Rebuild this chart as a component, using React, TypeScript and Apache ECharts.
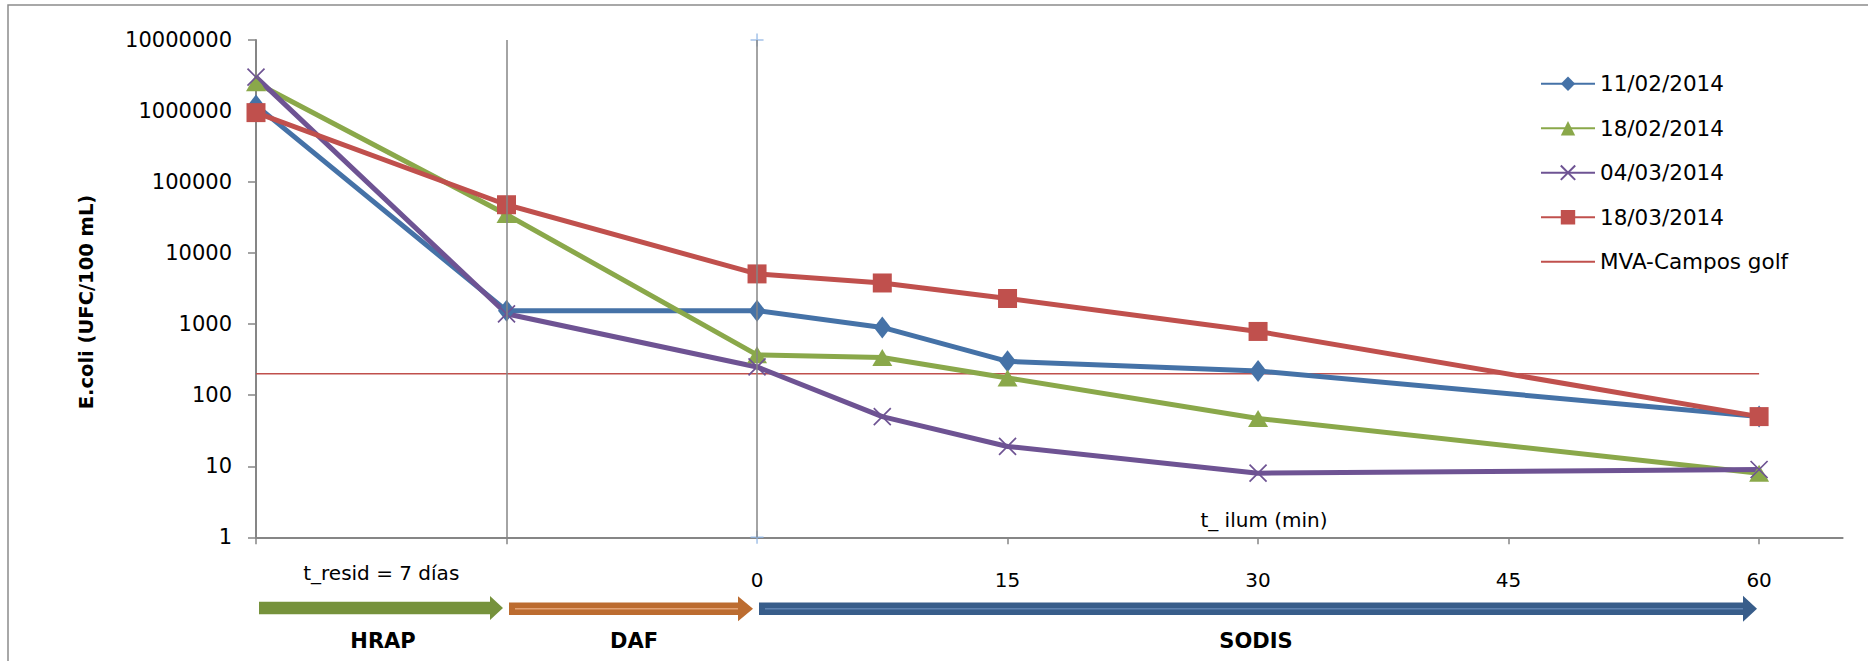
import React, { useEffect, useRef } from "react";
import * as echarts from "echarts";

// x: HRAP in (-30), HRAP out/DAF in (-15), then SODIS illumination minutes
const xValues = [-30, -15, 0, 7.5, 15, 30, 60];
const s1102 = [1200000, 1550, 1550, 900, 300, 220, 50];
const s1802 = [2500000, 35000, 370, 340, 175, 47, 8];
const s0403 = [3000000, 1400, 250, 50, 19, 8, 9];
const s1803 = [950000, 48000, 5100, 3800, 2300, 790, 50];
const mvaLimit = 200;
const mvaSpan = [-30, 60];
const seriesNames = ["11/02/2014", "18/02/2014", "04/03/2014", "18/03/2014", "MVA-Campos golf"];
const tickValues = [-30, -15, 15, 30, 45, 60];
const labelValues = [-22.5, 0, 15, 30, 45, 60];
const stageDividers = [-15, 0];
const FONT = "DejaVu Sans";

const CROSS = "path://M0,0 L10,10 M10,0 L0,10";
const PLUS = "path://M5,0 L5,10 M0,5 L10,5";
const THIN_LINE = "path://M0,0 L54,0 L54,2 L0,2 Z";

function arrow(x0: number, xh: number, tip: number, yc: number, sh: number, hh: number, fill: string) {
  return {
    type: "polygon",
    shape: {
      points: [
        [x0, yc - sh], [xh, yc - sh], [xh, yc - hh], [tip, yc], [xh, yc + hh], [xh, yc + sh], [x0, yc + sh],
      ],
    },
    style: { fill },
    silent: true,
  };
}

export default function App() {
  const ref = useRef<HTMLDivElement>(null);
  useEffect(() => {
    if (!ref.current) return;
    const chart = echarts.init(ref.current, null, { renderer: "svg" });
    const mk = (name: string, vals: number[], symbol: string, size: any, color: string, cross = false) => ({
      type: "line",
      name,
      data: xValues.map((x, i) => [x, vals[i]]),
      symbol,
      symbolSize: size,
      showAllSymbol: true,
      clip: false,
      lineStyle: { color, width: 5 },
      itemStyle: cross
        ? { color: "rgba(0,0,0,0)", borderColor: color, borderWidth: 1.7 }
        : { color, borderWidth: 0 },
      emphasis: { disabled: true },
    });
    chart.setOption({
      animation: false,
      backgroundColor: "#fff",
      grid: { left: 256, top: 40, right: 1868 - 1842.6, bottom: 661 - 537.3 },
      legend: {
        orient: "vertical",
        left: 1535,
        top: 67.7,
        itemWidth: 54,
        itemHeight: 18,
        itemGap: 22.5,
        data: seriesNames.map((n, i) => (i === 4 ? { name: n, icon: THIN_LINE, itemStyle: { color: "#C0504D" } } : { name: n })),
        textStyle: { fontFamily: FONT, fontSize: 21.5, color: "#000", lineHeight: 18 },
        selectedMode: false,
      },
      xAxis: {
        type: "value",
        min: -30,
        max: 65,
        interval: 15,
        axisLine: { onZero: false, lineStyle: { color: "#868686", width: 2 } },
        axisTick: { show: true, customValues: tickValues, length: 7, lineStyle: { color: "#868686", width: 1.5 } },
        axisLabel: {
          customValues: labelValues,
          margin: 26,
          color: "#000",
          fontFamily: FONT,
          fontSize: 20,
          formatter: (v: number) =>
            Math.abs(v + 22.5) < 1e-6 ? "{r|t_resid = 7 días}" : "{d|" + String(v) + "}",
          rich: {
            r: { fontFamily: FONT, fontSize: 20, lineHeight: 20, color: "#000" },
            d: { fontFamily: FONT, fontSize: 20, lineHeight: 34, color: "#000" },
          },
        },
        splitLine: { show: false },
      },
      yAxis: {
        type: "log",
        logBase: 10,
        min: 1,
        max: 10000000,
        axisLine: { show: true, onZero: false, lineStyle: { color: "#868686", width: 2 } },
        axisTick: { show: true, length: 8, lineStyle: { color: "#868686", width: 1.5 } },
        axisLabel: {
          margin: 24,
          color: "#000",
          fontFamily: FONT,
          fontSize: 21,
          formatter: (v: number) => String(Math.round(v)),
        },
        splitLine: { show: false },
        minorTick: { show: false },
      },
      series: [
        {
          type: "line",
          name: "dividers",
          data: [],
          silent: true,
          markLine: {
            symbol: "none",
            silent: true,
            label: { show: false },
            lineStyle: { color: "#868686", width: 1.5, type: "solid" },
            data: stageDividers.map((x) => ({ xAxis: x })),
          },
        },
        {
          type: "scatter",
          name: "caps",
          data: [[0, 10000000], [0, 1]],
          symbol: PLUS,
          symbolSize: 13,
          clip: false,
          silent: true,
          itemStyle: { color: "rgba(0,0,0,0)", borderColor: "#8DB3E2", borderWidth: 1.5 },
        },
        {
          type: "line",
          name: seriesNames[4],
          data: mvaSpan.map((x) => [x, mvaLimit]),
          symbol: "none",
          lineStyle: { color: "#C0504D", width: 1.5 },
          itemStyle: { color: "#C0504D" },
          emphasis: { disabled: true },
        },
        mk(seriesNames[0], s1102, "diamond", [17, 22], "#4572A7"),
        mk(seriesNames[1], s1802, "triangle", [20, 17], "#8AA84A"),
        mk(seriesNames[2], s0403, CROSS, 17, "#6E5393", true),
        mk(seriesNames[3], s1803, "rect", 19, "#C0504D"),
      ],
      graphic: [
        {
          type: "rect",
          shape: { x: 8, y: 5, width: 1900, height: 700 },
          style: { fill: "none", stroke: "#8C8C8C", lineWidth: 1.5 },
          silent: true,
          z: -10,
        },
        arrow(259, 490, 503, 608, 6.2, 12, "#76923C"),
        arrow(509, 738, 753, 608.8, 6.2, 12.5, "#BC6C30"),
        {
          type: "line",
          shape: { x1: 515, y1: 608.8, x2: 738, y2: 608.8 },
          style: { stroke: "#E3A274", lineWidth: 1.5 },
          silent: true,
        },
        arrow(759, 1743, 1757, 608.8, 6.2, 13, "#385D8A"),
        {
          type: "line",
          shape: { x1: 765, y1: 608.8, x2: 1743, y2: 608.8 },
          style: { stroke: "#5F82B0", lineWidth: 1.5 },
          silent: true,
        },
        {
          type: "text",
          x: 383, y: 640.5,
          style: { text: "HRAP", fontFamily: FONT, fontSize: 21, fontWeight: "bold", fill: "#000", align: "center", verticalAlign: "middle" },
        },
        {
          type: "text",
          x: 634, y: 640.5,
          style: { text: "DAF", fontFamily: FONT, fontSize: 21, fontWeight: "bold", fill: "#000", align: "center", verticalAlign: "middle" },
        },
        {
          type: "text",
          x: 1256, y: 640.5,
          style: { text: "SODIS", fontFamily: FONT, fontSize: 21, fontWeight: "bold", fill: "#000", align: "center", verticalAlign: "middle" },
        },
        {
          type: "text",
          x: 1264, y: 520,
          style: { text: "t_ ilum (min)", fontFamily: FONT, fontSize: 20, fill: "#000", align: "center", verticalAlign: "middle" },
        },
        {
          type: "text",
          x: 86, y: 302,
          rotation: Math.PI / 2,
          style: { text: "E.coli (UFC/100 mL)", fontFamily: FONT, fontSize: 19.5, fontWeight: "bold", fill: "#000", align: "center", verticalAlign: "middle" },
        },
      ],
    });
    return () => chart.dispose();
  }, []);
  return (
    <div
      ref={ref}
      style={{ position: "absolute", left: 0, top: 0, width: 1868, height: 661, background: "#fff" }}
    />
  );
}
